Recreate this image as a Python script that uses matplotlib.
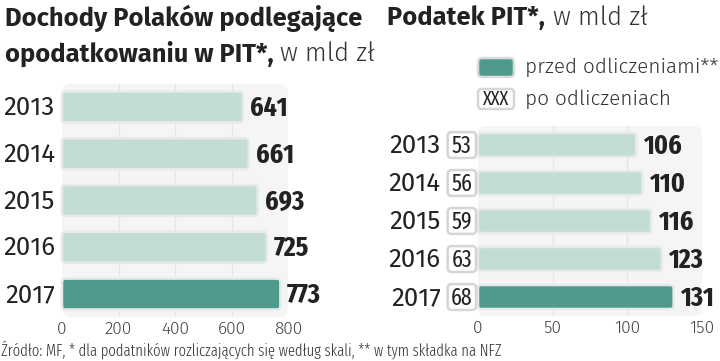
import numpy as np
import matplotlib
matplotlib.use("Agg")
import matplotlib.pyplot as plt
from matplotlib.patches import FancyBboxPatch
from matplotlib.transforms import IdentityTransform

years = ["2013", "2014", "2015", "2016", "2017"]
dochody = [641, 661, 693, 725, 773]
pit_przed = [106, 110, 116, 123, 131]
pit_po = [53, 56, 59, 63, 68]
ticks_left = [0, 200, 400, 600, 800]
ticks_right = [0, 50, 100, 150]

LIGHT = "#c3ddd6"
DARK = "#4e9a8c"
TXT = "#222222"
W, H = 720, 361

FIRA = ["Fira Sans", "DejaVu Sans"]
FIRA_C = ["Fira Sans Condensed", "DejaVu Sans"]
FIRA_XC = ["Fira Sans Extra Condensed", "DejaVu Sans"]

plt.rcParams["font.family"] = FIRA
fig = plt.figure(figsize=(W / 100, H / 100), dpi=100)
fig.patch.set_facecolor("white")
renderer = fig.canvas.get_renderer()


def px(x, y):
    return x / W, 1 - y / H


def axes_px(x0, y0, x1, y1):
    return fig.add_axes([x0 / W, 1 - y1 / H, (x1 - x0) / W, (y1 - y0) / H])


def fit(t, width_px):
    w = t.get_window_extent(renderer).width
    t.set_fontsize(t.get_fontsize() * width_px / w)


def right_edge(t):
    return t.get_window_extent(renderer).x1


def rbox(ax, x, y, w, h, r_px, ux, uy, fc, ec, lw, z=3):
    p = FancyBboxPatch((x, y), w, h,
                       boxstyle="round,pad=0,rounding_size=%f" % (r_px * ux),
                       mutation_aspect=uy / ux, facecolor=fc, edgecolor=ec,
                       linewidth=lw, zorder=z, clip_on=False)
    ax.add_patch(p)


def round_bars(ax, bars, colors, ux, uy):
    for b, c in zip(bars, colors):
        b.set_visible(False)
        rbox(ax, b.get_x(), b.get_y(), b.get_width(), b.get_height(), 3, ux, uy,
             c, "#e6ebe9", 1.8)


def panel(ax):
    bg = FancyBboxPatch((0, 0), 1.0, 1.0, transform=ax.transAxes,
                        boxstyle="round,pad=0,rounding_size=0.04",
                        facecolor="#f5f5f5", edgecolor="none", zorder=0, clip_on=False)
    ax.add_patch(bg)


def setup(ax, xmax, ticks):
    ax.set_xlim(0, xmax)
    ax.set_ylim(len(years) - 0.5, -0.5)
    ax.set_facecolor("none")
    for s in ax.spines.values():
        s.set_visible(False)
    ax.set_xticks(ticks)
    ax.set_xticklabels([str(t) for t in ticks], fontsize=12.5, color="#444444",
                       fontweight=300)
    ax.tick_params(axis="x", length=0, pad=3)
    ax.set_yticks([])
    for t in ticks[1:-1]:
        ax.axvline(t, color="#e6e6e6", linewidth=1, zorder=1)


colors = [LIGHT] * 4 + [DARK]

# left chart
axL = axes_px(62, 83.6, 288, 317.4)
setup(axL, 800, ticks_left)
panel(axL)
bl = axL.barh(range(len(years)), dochody, height=0.66, left=0)
round_bars(axL, bl, colors, 800 / 226, 5 / 233.8)
for i, v in enumerate(dochody):
    axL.text(v + 24, i + 0.03, str(v), va="center", ha="left", fontsize=20, fontweight="bold",
             family=FIRA_XC, color=TXT, clip_on=False)
    axL.text(-25, i + 0.02, years[i], va="center", ha="right", fontsize=18.5, color=TXT)

# right chart
axR = axes_px(478, 126, 702, 316)
setup(axR, 150, ticks_right)
panel(axR)
br = axR.barh(range(len(years)), pit_przed, height=0.63, left=0)
uxR, uyR = 150 / 224, 5 / 190
round_bars(axR, br, colors, uxR, uyR)
for i, v in enumerate(pit_przed):
    axR.text(v + 4.5, i + 0.03, str(v), va="center", ha="left", fontsize=20, fontweight="bold",
             family=FIRA_XC, color=TXT, clip_on=False)
    rbox(axR, -20.3, i - 0.34, 19.0, 0.68, 4, uxR, uyR, "white", "#d6d6d6", 1.8)
    axR.text(-10.8, i + 0.03, str(pit_po[i]), va="center", ha="center", fontsize=17,
             color=TXT, family=FIRA_XC, zorder=4)
    axR.text(-25, i + 0.02, years[i], va="center", ha="right", fontsize=18.5, color=TXT)

# titles
t1 = fig.text(*px(5, 18), "Dochody Polaków podlegające", fontsize=16, fontweight="bold",
              color=TXT, va="center", ha="left")
fit(t1, 357)
fs = t1.get_fontsize()
t2 = fig.text(*px(5, 54), "opodatkowaniu w PIT*,", fontsize=fs, fontweight="bold",
              color=TXT, va="center", ha="left")
fig.text((right_edge(t2) + 6) / W, 1 - 54 / H, "w mld zł", fontsize=fs, fontweight=300,
         color="#333333", va="center", ha="left")
t3 = fig.text(*px(387, 18), "Podatek PIT*,", fontsize=fs, fontweight="bold",
              color=TXT, va="center", ha="left")
fig.text((right_edge(t3) + 8) / W, 1 - 18 / H, "w mld zł", fontsize=fs, fontweight=300,
         color="#333333", va="center", ha="left")

# legend
ident = IdentityTransform()
fig.patches.append(FancyBboxPatch((478, H - 77), 36, 19,
                                  boxstyle="round,pad=0,rounding_size=4",
                                  transform=ident, facecolor=DARK,
                                  edgecolor="#dcdcdc", linewidth=1.8))
fig.patches.append(FancyBboxPatch((478, H - 109), 36, 20,
                                  boxstyle="round,pad=0,rounding_size=4",
                                  transform=ident, facecolor="white",
                                  edgecolor="#d6d6d6", linewidth=1.8))
fig.text(*px(496, 99.5), "XXX", fontsize=14, ha="center", va="center", color=TXT,
         family=FIRA_XC)
l1 = fig.text(*px(525, 67), "przed odliczeniami**", fontsize=14, fontweight=300,
              color="#333333", va="center", ha="left")
fit(l1, 193)
fig.text(*px(525, 99), "po odliczeniach", fontsize=l1.get_fontsize(), fontweight=300,
         color="#333333", va="center", ha="left")

# source
s = fig.text(*px(1, 350), "Źródło: MF, * dla podatników rozliczających się według skali, ** w tym składka na NFZ",
             fontsize=12, fontweight=300, color="#333333", va="center", ha="left",
             family=FIRA_XC)
fit(s, 500)

fig.savefig("out.png", dpi=100)
